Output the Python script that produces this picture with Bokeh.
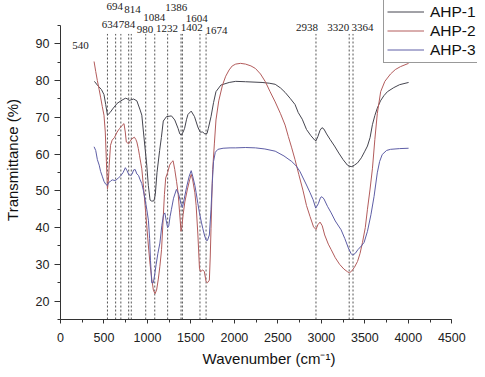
from bokeh.plotting import figure
from bokeh.models import (Range1d, SingleIntervalTicker, LabelSet, ColumnDataSource,
                          Legend, LegendItem)
from bokeh.embed import file_html
from bokeh.resources import INLINE
from bokeh.core.properties import value

# ---------------- data ----------------
ahp1_wn = [390, 430, 470, 500, 520, 540, 570, 600, 651, 708, 746, 765, 790, 803, 841, 878,
           916, 935, 954, 975, 992, 1010, 1030, 1050, 1075, 1090, 1110, 1140, 1160, 1182,
           1219, 1276, 1314, 1352, 1372, 1390, 1410, 1427, 1450, 1466, 1503, 1541, 1579,
           1606, 1636, 1660, 1685, 1700, 1731, 1760, 1788, 1845, 1940, 2015, 2128, 2318,
           2400, 2469, 2530, 2583, 2640, 2697, 2734, 2780, 2829, 2880, 2924, 2938, 2960,
           2985, 3007, 3030, 3060, 3100, 3151, 3200, 3250, 3300, 3322, 3350, 3380, 3416,
           3460, 3500, 3530, 3560, 3587, 3615, 3643, 3680, 3719, 3760, 3833, 3900, 4003]
ahp1_t = [79.8, 78.6, 77.6, 76.2, 73.5, 70.6, 71.3, 72.3, 73.8, 74.7, 75.2, 75.1, 74.6, 74.7,
          75.0, 74.5, 72.0, 70.6, 66.0, 61.0, 57.0, 51.5, 47.5, 47.2, 47.3, 49.0, 55.0, 61.0,
          64.5, 69.0, 70.2, 70.4, 69.3, 67.0, 65.5, 65.2, 66.0, 67.0, 69.5, 70.8, 71.7, 70.2,
          67.4, 66.0, 66.0, 65.5, 65.6, 67.0, 70.2, 74.0, 77.0, 78.8, 79.5, 79.8, 79.7, 79.5,
          79.3, 79.0, 78.0, 76.8, 75.2, 73.5, 71.3, 69.5, 66.7, 65.0, 63.8, 63.6, 64.8, 66.5,
          67.2, 66.8, 65.5, 64.0, 62.2, 60.3, 58.5, 57.0, 56.7, 56.6, 57.0, 57.6, 59.0, 60.8,
          62.2, 64.5, 68.0, 70.5, 72.5, 74.5, 75.9, 77.0, 78.1, 78.9, 79.5]

ahp2_wn = [386, 405, 424, 445, 461, 480, 500, 515, 528, 540, 550, 560, 575, 594, 620, 651,
           680, 708, 730, 745, 757, 784, 800, 822, 850, 866, 878, 895, 908, 935, 955, 973,
           992, 1011, 1030, 1050, 1068, 1087, 1105, 1125, 1143, 1162, 1180, 1195, 1210, 1232,
           1255, 1276, 1295, 1314, 1335, 1352, 1370, 1386, 1395, 1410, 1430, 1460, 1485,
           1503, 1520, 1545, 1560, 1580, 1598, 1610, 1636, 1655, 1674, 1690, 1712, 1722,
           1731, 1740, 1750, 1770, 1788, 1820, 1863, 1900, 1939, 1975, 2015, 2070, 2128,
           2190, 2242, 2300, 2356, 2410, 2469, 2530, 2583, 2620, 2659, 2697, 2740, 2790,
           2829, 2870, 2910, 2938, 2960, 2985, 3010, 3038, 3080, 3113, 3160, 3210, 3260,
           3300, 3322, 3350, 3380, 3416, 3445, 3473, 3505, 3530, 3560, 3587, 3615, 3643,
           3682, 3730, 3795, 3850, 3909, 4003]
ahp2_t = [85.2, 82.5, 80.0, 77.5, 75.5, 73.0, 70.6, 66.0, 58.0, 50.5, 52.5, 57.0, 62.4, 63.8,
          64.5, 66.0, 67.0, 67.8, 68.3, 66.0, 63.3, 62.8, 63.5, 64.2, 64.6, 64.0, 63.3, 61.5,
          59.7, 56.0, 51.0, 46.0, 40.5, 35.0, 30.0, 26.0, 23.0, 22.0, 23.0, 26.0, 29.5, 34.0,
          42.0, 49.0, 53.5, 55.0, 57.0, 57.8, 58.2, 55.8, 52.5, 49.5, 44.0, 39.0, 40.0, 43.5,
          47.0, 50.5, 53.0, 54.5, 53.0, 49.5, 46.0, 38.0, 29.0, 28.0, 28.5, 28.0, 25.3, 25.0,
          25.7, 32.0, 39.8, 48.0, 55.8, 63.0, 69.3, 74.5, 78.8, 81.2, 82.9, 84.0, 84.5, 84.7,
          84.5, 84.0, 83.3, 81.8, 79.7, 77.0, 74.2, 71.0, 67.9, 64.8, 61.7, 58.5, 54.5, 50.0,
          46.0, 43.0, 40.2, 39.5, 40.8, 41.5, 40.5, 38.0, 35.5, 34.0, 31.8, 30.0, 28.7, 28.0,
          27.7, 28.2, 29.2, 30.8, 33.0, 36.0, 40.0, 45.0, 50.5, 56.0, 64.0, 71.0, 77.0, 79.8,
          81.8, 83.0, 83.8, 84.7]

ahp3_wn = [386, 405, 424, 445, 461, 480, 500, 520, 537, 555, 575, 594, 632, 670, 689, 720,
           746, 765, 784, 803, 822, 841, 859, 878, 897, 916, 935, 954, 973, 992, 1011, 1025,
           1035, 1049, 1068, 1085, 1100, 1120, 1143, 1165, 1185, 1200, 1215, 1232, 1245,
           1260, 1276, 1300, 1333, 1360, 1386, 1402, 1420, 1450, 1480, 1503, 1520, 1545,
           1560, 1580, 1598, 1620, 1636, 1655, 1674, 1690, 1712, 1731, 1745, 1760, 1780,
           1810, 1870, 1950, 2015, 2130, 2242, 2350, 2469, 2570, 2659, 2710, 2753, 2790,
           2829, 2870, 2905, 2935, 2965, 2990, 3007, 3030, 3070, 3113, 3160, 3227, 3270,
           3310, 3340, 3360, 3390, 3420, 3460, 3492, 3530, 3570, 3606, 3643, 3670, 3700,
           3750, 3795, 3900, 4003]
ahp3_t = [62.0, 61.0, 58.5, 57.0, 55.3, 54.0, 52.6, 51.8, 51.5, 52.3, 52.6, 53.0, 52.8, 53.6,
          54.0, 55.0, 56.3, 55.5, 54.5, 54.2, 54.5, 55.7, 55.8, 54.6, 54.2, 53.0, 52.0, 50.0,
          47.6, 45.0, 42.0, 37.0, 31.0, 25.0, 25.0, 27.5, 30.0, 33.0, 35.8, 40.5, 43.5, 44.0,
          42.0, 40.0, 40.5, 43.0, 45.0, 48.0, 50.4, 49.0, 46.5, 45.5, 47.5, 51.0, 54.0, 55.5,
          54.0, 51.5, 49.5, 46.5, 44.0, 41.5, 39.8, 38.0, 36.6, 36.5, 38.0, 45.0, 52.0, 58.0,
          60.5, 61.3, 61.6, 61.7, 61.7, 61.8, 61.7, 61.4, 60.8, 59.5, 58.0, 56.8, 55.3, 53.5,
          51.6, 49.5, 47.6, 45.3, 46.5, 48.2, 48.4, 47.8, 45.8, 44.0, 41.8, 39.4, 37.0, 34.5,
          33.0, 32.5, 33.0, 34.0, 35.0, 36.0, 39.0, 43.5, 48.5, 54.9, 58.0, 59.9, 61.0, 61.3,
          61.5, 61.6]

series_names = ["AHP-1", "AHP-2", "AHP-3"]

peak_wn = [540, 634, 694, 784, 814, 980, 1084, 1232, 1386, 1402, 1604, 1674, 2938, 3320, 3364]
peak_labels = [str(v) for v in peak_wn]

x_axis_min, x_axis_max = 0, 4500
y_axis_min, y_axis_max = 15, 95
x_ticks_interval = 500
y_ticks_interval = 10

# ---------------- layout / styling ----------------
colors = ["#45454f", "#b35c5c", "#5e5ea6"]
# anchor of each peak label (data units), stacked as in the reference
label_x = [231, 569, 625, 765, 827, 973, 1077, 1225, 1331, 1509, 1566, 1793, 2835, 3193, 3473]
label_y = [89.6, 95.2, 100.3, 95.2, 99.4, 93.9, 97.2, 94.1, 100.0, 94.5, 96.8, 93.6, 94.4, 94.4, 94.4]
dash_top = 92.7
frame_x_end = 4795.5   # frame extends past the axis end so the legend fits
frame_y_end = 101.8    # room above the axis end for the peak labels

p = figure(width=477, height=369, output_backend="svg", toolbar_location=None,
           x_range=Range1d(x_axis_min, frame_x_end), y_range=Range1d(y_axis_min, frame_y_end),
           min_border_left=55, min_border_right=0, min_border_top=0, min_border_bottom=50)
p.outline_line_color = None
p.xgrid.visible = False
p.ygrid.visible = False
p.background_fill_color = "white"
p.border_fill_color = "white"

# dotted reference lines
p.segment(x0=peak_wn, x1=peak_wn, y0=[y_axis_min] * len(peak_wn), y1=[dash_top] * len(peak_wn),
          line_color="#555555", line_width=1, line_dash="2 2")

renderers = []
for wn, t, c in zip([ahp1_wn, ahp2_wn, ahp3_wn], [ahp1_t, ahp2_t, ahp3_t], colors):
    r = p.line(wn, t, line_color=c, line_width=1)
    renderers.append(r)

lab_src = ColumnDataSource(dict(x=label_x, y=label_y, text=peak_labels))
labels = LabelSet(x="x", y="y", text="text", source=lab_src,
                  text_font=value("Liberation Serif"), text_font_size="11px",
                  text_color="#222222", text_align="center", text_baseline="middle")
p.add_layout(labels)

# axes
p.xaxis.ticker = SingleIntervalTicker(interval=x_ticks_interval, num_minor_ticks=2)
p.yaxis.ticker = SingleIntervalTicker(interval=y_ticks_interval, num_minor_ticks=2)
p.xaxis.bounds = (x_axis_min, x_axis_max)
p.yaxis.bounds = (y_axis_min, y_axis_max)
p.xaxis.axis_label = "Wavenumber (cm\u207b\u00b9)"
p.yaxis.axis_label = "Transmittance (%)"
for ax in (p.xaxis[0], p.yaxis[0]):
    ax.axis_line_color = "#333333"
    ax.major_tick_line_color = "#333333"
    ax.minor_tick_line_color = "#333333"
    ax.major_tick_in = 0
    ax.minor_tick_in = 0
    ax.minor_tick_out = 3
    ax.major_label_text_font = "Liberation Sans"
    ax.major_label_text_font_size = "12.5px"
    ax.major_label_text_color = "#222222"
    ax.axis_label_text_font = "Liberation Sans"
    ax.axis_label_text_font_size = "15px"
    ax.axis_label_text_font_style = "normal"
    ax.axis_label_text_color = "#111111"
p.xaxis.major_tick_out = 4
p.yaxis.major_tick_out = 6
p.xaxis.major_label_standoff = 9
p.yaxis.major_label_standoff = 5
p.xaxis.axis_label_standoff = 5
p.yaxis.axis_label_standoff = 12

legend = Legend(items=[LegendItem(label=n, renderers=[r]) for n, r in zip(series_names, renderers)],
                location=(323, 256), margin=0, padding=3, spacing=0,
                glyph_width=37, glyph_height=19, label_height=19, label_standoff=6,
                label_text_font="Liberation Sans", label_text_font_size="15.5px",
                label_text_color="#111111",
                border_line_color="#333333", border_line_width=1,
                background_fill_color="white", background_fill_alpha=1)
p.add_layout(legend)

open("out.html", "w").write(file_html(p, INLINE))
